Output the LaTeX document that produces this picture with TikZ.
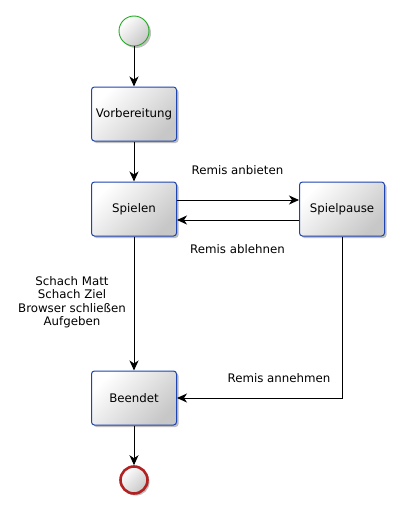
\documentclass[tikz,border=0pt]{standalone}
\usepackage{fontspec}
\setmainfont{DejaVu Sans}
\usetikzlibrary{arrows.meta,shadows}
\definecolor{boxblue}{HTML}{1E44B0}
\definecolor{startgreen}{HTML}{22AA22}
\definecolor{endred}{HTML}{B22222}
\begin{document}
\begin{tikzpicture}[x=1pt,y=-1pt,
  every node/.style={font=\fontsize{11.8}{13.5}\selectfont},
  grad/.style={top color=white, bottom color=black!22, shading angle=45,
    drop shadow={shadow xshift=2pt, shadow yshift=-2pt, opacity=0.25, fill=black}},
  statebox/.style={grad, draw=boxblue, line width=1pt, rounded corners=3pt,
    minimum width=85pt, minimum height=54pt, inner sep=0pt},
  startnode/.style={grad, circle, draw=startgreen, line width=0.9pt, minimum size=30pt, inner sep=0pt},
  endnode/.style={grad, circle, draw=endred, line width=2.6pt, minimum size=27pt, inner sep=0pt},
  conn/.style={draw=black, line width=0.9pt, -{Stealth[length=10pt,width=9pt,inset=3pt]}},
  lbl/.style={inner sep=0pt, align=center}
]
\useasboundingbox (0,0) rectangle (400,519);

\node[startnode] (start) at (134,31) {};
\node[statebox] (vor) at (134,114) {Vorbereitung};
\node[statebox] (spi) at (134,209) {Spielen};
\node[statebox] (pause) at (342,209) {Spielpause};
\node[statebox] (bee) at (134,398) {Beendet};
\node[endnode] (end) at (134,480) {};

\draw[conn] (start) -- (vor);
\draw[conn] (vor) -- (spi);
\draw[conn] ([yshift=9pt]spi.east) -- ([yshift=9pt]pause.west);
\draw[conn] ([yshift=-11pt]pause.west) -- ([yshift=-11pt]spi.east);
\draw[conn] (spi) -- (bee);
\draw[conn] (pause.south) |- (bee.east);
\draw[conn] (bee) -- (end);

\node[lbl] (lanb) at (237.5,170) {Remis anbieten};
\node[lbl] (labl) at (237.5,249) {Remis ablehnen};
\node[lbl] (lann) at (279,378) {Remis annehmen};
\node[lbl] (lend) at (72,302) {Schach Matt\\Schach Ziel\\Browser schließen\\Aufgeben};
\end{tikzpicture}
\end{document}
